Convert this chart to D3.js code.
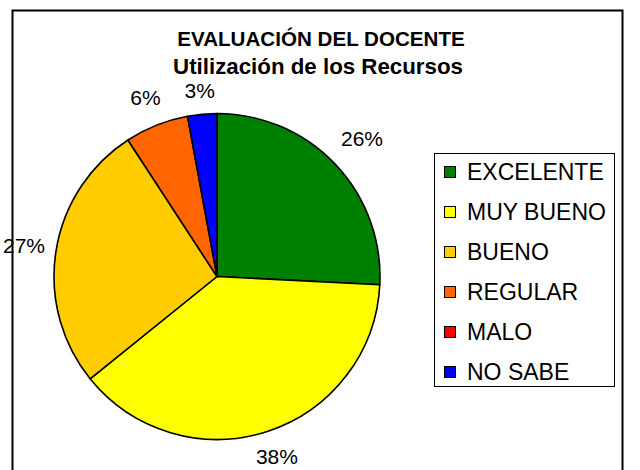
<!DOCTYPE html>
<html>
<head>
<meta charset="utf-8">
<script src="https://cdn.jsdelivr.net/npm/d3@7"></script>
<style>
  html, body { margin: 0; padding: 0; background: #fff; }
  svg { display: block; font-family: "Liberation Sans", Arial, sans-serif; }
</style>
</head>
<body>
<svg id="chart" width="640" height="470"></svg>
<script>
const titleLines = ["EVALUACIÓN DEL DOCENTE", "Utilización de los Recursos"];
const categories = ["EXCELENTE", "MUY BUENO", "BUENO", "REGULAR", "MALO", "NO SABE"];
const values = [0.258, 0.384, 0.266, 0.063, 0.0, 0.029];
const colors = ["#008000", "#FFFF00", "#FFCC00", "#FF6600", "#FF0000", "#0000FF"];

const svg = d3.select("#chart");
const W = 640, H = 470;

// outer frame (open at the bottom, like the clipped original)
svg.append("path")
  .attr("d", `M12.5,${H + 5} V10.5 H622.5 V${H + 5}`)
  .attr("fill", "none").attr("stroke", "#000").attr("stroke-width", 2);

// titles
svg.append("text").attr("x", 321).attr("y", 46)
  .attr("text-anchor", "middle").attr("font-weight", "bold").attr("font-size", 20.6)
  .text(titleLines[0]);
svg.append("text").attr("x", 318).attr("y", 74)
  .attr("text-anchor", "middle").attr("font-weight", "bold").attr("font-size", 22.3)
  .text(titleLines[1]);

// pie
const cx = 217, cy = 276.5, R = 163;
const data = categories.map((c, i) => ({ cat: c, value: values[i], color: colors[i] }));
const pie = d3.pie().value(d => d.value).sort(null);
const arcs = pie(data);
const arc = d3.arc().innerRadius(0).outerRadius(R);

const g = svg.append("g").attr("transform", `translate(${cx},${cy})`);
g.selectAll("path.slice").data(arcs.filter(a => a.data.value > 0)).join("path")
  .attr("class", "slice")
  .attr("d", arc)
  .attr("fill", d => d.data.color)
  .attr("stroke", "#000").attr("stroke-width", 1.6).attr("stroke-linejoin", "round");

// labels outside end
const fmt = d3.format(".0%");
const lblH = 20, gap = 15;
arcs.filter(a => a.data.value > 0).forEach(a => {
  const ang = (a.startAngle + a.endAngle) / 2;
  const t = g.append("text")
    .attr("text-anchor", "middle").attr("dominant-baseline", "central")
    .attr("font-size", 21).text(fmt(a.data.value));
  const w = t.node().getComputedTextLength();
  const s = Math.sin(ang), c = -Math.cos(ang);
  const d = R + gap + Math.abs(s) * w / 2 + Math.abs(c) * lblH / 2;
  let x = d * s, y = d * c;
  y = Math.max(Math.min(y, H - 14 - cy), 90 - cy);
  x = Math.max(x, -cx + w / 2 + 3);
  t.attr("x", x).attr("y", y);
});

// legend
const lx = 434, ly = 153, lw = 180, lh = 233;
svg.append("rect").attr("x", lx + 0.5).attr("y", ly + 0.5).attr("width", lw).attr("height", lh)
  .attr("fill", "#fff").attr("stroke", "#000").attr("stroke-width", 1);
const rowY = d3.scalePoint().domain(categories).range([ly + 19, ly + 219]);
const items = svg.append("g").selectAll("g").data(data).join("g")
  .attr("transform", d => `translate(${lx + 10},${rowY(d.cat)})`);
items.append("rect").attr("x", 0.5).attr("y", -5.5).attr("width", 11).attr("height", 11)
  .attr("fill", d => d.color).attr("stroke", "#000").attr("stroke-width", 1);
items.append("text").attr("x", 23).attr("y", 0).attr("dominant-baseline", "central")
  .attr("font-size", 23).text(d => d.cat);
</script>
</body>
</html>
